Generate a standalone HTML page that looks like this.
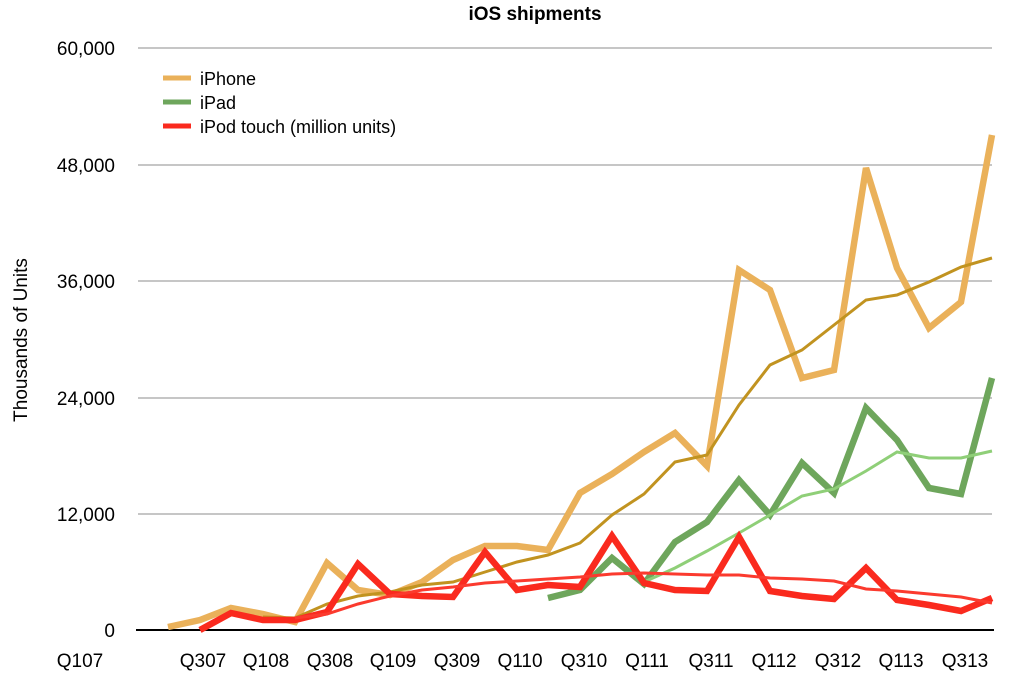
<!DOCTYPE html>
<html><head><meta charset="utf-8"><style>body{margin:0;background:#fff}svg{display:block;font-family:"Liberation Sans",sans-serif}</style></head><body>
<svg width="1020" height="676" viewBox="0 0 1020 676">
<text x="535" y="20" font-size="19" font-weight="bold" text-anchor="middle">iOS shipments</text>
<g stroke="#b3b3b3" stroke-width="1.5">
<line x1="138" y1="48" x2="992" y2="48"/><line x1="138" y1="165" x2="992" y2="165"/><line x1="138" y1="281" x2="992" y2="281"/><line x1="138" y1="398" x2="992" y2="398"/><line x1="138" y1="514" x2="992" y2="514"/></g>
<line x1="136" y1="630" x2="994" y2="630" stroke="#000" stroke-width="2"/>
<g font-size="19" text-anchor="end"><text x="115" y="55">60,000</text><text x="115" y="172">48,000</text><text x="115" y="288">36,000</text><text x="115" y="405">24,000</text><text x="115" y="521">12,000</text><text x="115" y="637">0</text></g>
<text transform="translate(27,340) rotate(-90)" font-size="19" text-anchor="middle">Thousands of Units</text>
<g font-size="19" text-anchor="middle"><text x="80" y="667">Q107</text><text x="203" y="667">Q307</text><text x="266" y="667">Q108</text><text x="330" y="667">Q308</text><text x="393" y="667">Q109</text><text x="457" y="667">Q309</text><text x="520" y="667">Q110</text><text x="584" y="667">Q310</text><text x="647" y="667">Q111</text><text x="711" y="667">Q311</text><text x="774" y="667">Q112</text><text x="838" y="667">Q312</text><text x="901" y="667">Q113</text><text x="965" y="667">Q313</text></g>
<g fill="none" stroke-linejoin="miter">
<polyline stroke="#eab15a" stroke-width="6.5" points="168,627 200,620 231,608 263,614 295,622 327,563 358,590 390,595 422,582 453,560 485,546 517,546 548,550 580,493 612,474 644,452 675,433 707,466 739,270 770,290 802,378 834,370 866,168 897,268 929,328 961,302 992,135"/>
<polyline stroke="#c19320" stroke-width="3" points="263,617 295,618 327,604 358,596 390,592 422,585 453,582 485,572 517,562 548,555 580,543 612,515 644,494 675,462 707,455 739,405 770,365 802,350 834,325 866,300 897,295 929,282 961,267 992,258"/>
<polyline stroke="#6ea65c" stroke-width="6.5" points="548,598 580,590 612,558 644,584 675,542 707,522 739,480 770,515 802,463 834,493 866,408 897,440 929,488 961,494 992,378"/>
<polyline stroke="#8fcf78" stroke-width="3" points="644,582 675,568 707,551 739,533 770,515 802,496 834,489 866,471 897,452 929,458 961,458 992,451"/>
<polyline stroke="#fa2a1e" stroke-width="6.5" points="200,630 231,613 263,620 295,620 327,612 358,564 390,594 422,596 453,597 485,552 517,590 548,585 580,587 612,536 644,583 675,590 707,591 739,537 770,591 802,596 834,599 866,568 897,600 929,605 961,611 992,598"/>
<polyline stroke="#fb3a2e" stroke-width="3" points="295,618 327,614 358,604 390,596 422,590 453,587 485,583 517,581 548,579 580,577 612,574 644,573 675,574 707,575 739,575 770,578 802,579 834,581 866,589 897,591 929,594 961,597 992,603"/>
</g>
<line x1="163" y1="78" x2="191" y2="78" stroke="#eab15a" stroke-width="5"/>
<line x1="163" y1="102" x2="191" y2="102" stroke="#6ea65c" stroke-width="5"/>
<line x1="163" y1="126" x2="191" y2="126" stroke="#fa2a1e" stroke-width="5"/>
<g font-size="18"><text x="200" y="85">iPhone</text><text x="200" y="109">iPad</text><text x="200" y="133">iPod touch (million units)</text></g>
</svg>
</body></html>
